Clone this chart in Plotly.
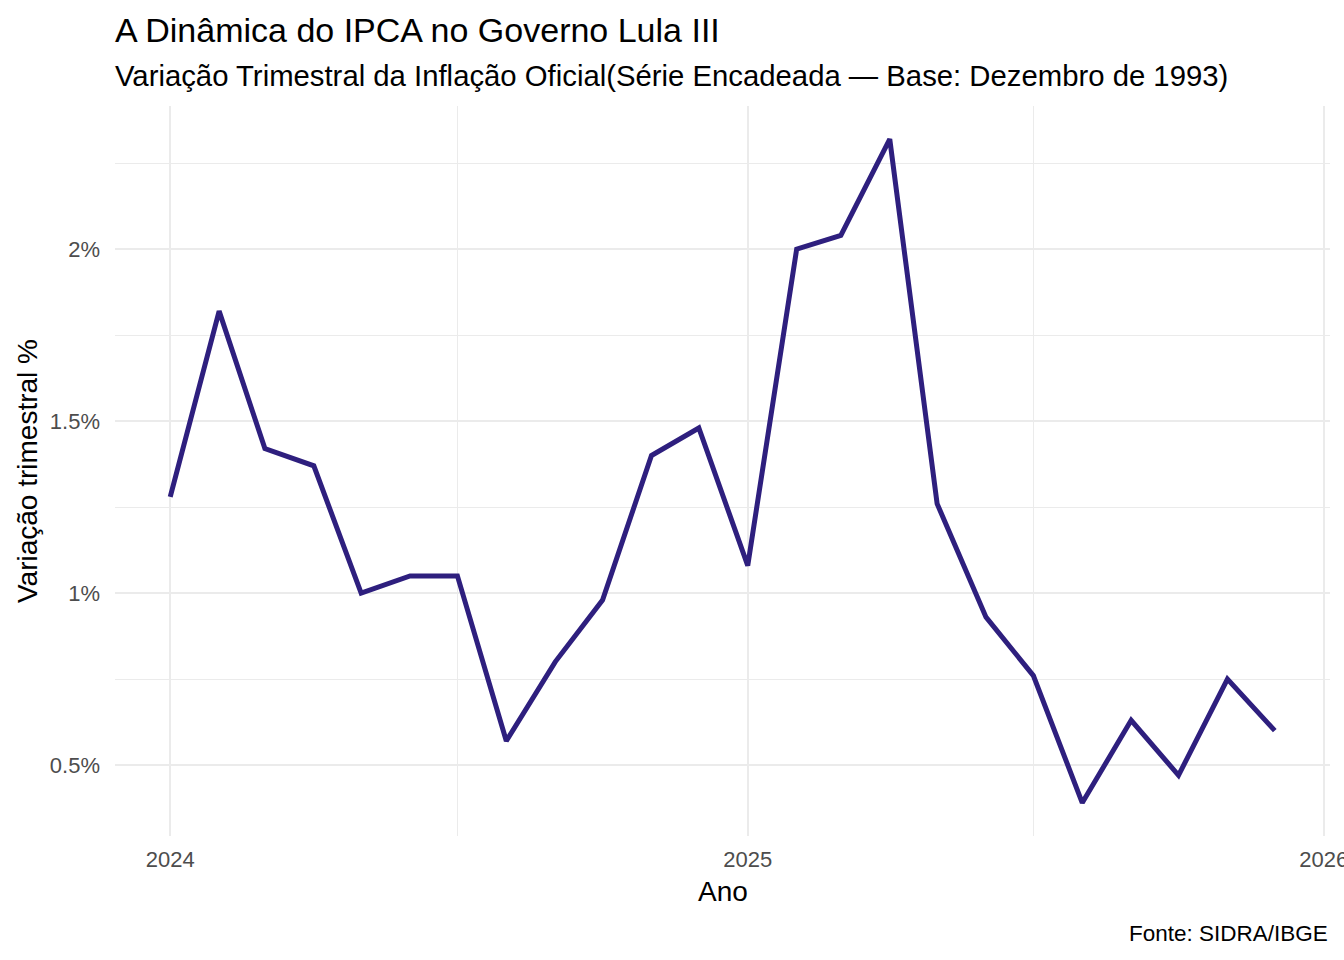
import plotly.graph_objects as go

# IPCA - variação trimestral (% ) mês a mês
meses = [
    "2024-01-01", "2024-02-01", "2024-03-01", "2024-04-01", "2024-05-01", "2024-06-01",
    "2024-07-01", "2024-08-01", "2024-09-01", "2024-10-01", "2024-11-01", "2024-12-01",
    "2025-01-01", "2025-02-01", "2025-03-01", "2025-04-01", "2025-05-01", "2025-06-01",
    "2025-07-01", "2025-08-01", "2025-09-01", "2025-10-01", "2025-11-01", "2025-12-01",
]
variacao = [
    1.28, 1.82, 1.42, 1.37, 1.00, 1.05,
    1.05, 0.57, 0.80, 0.98, 1.40, 1.48,
    1.08, 2.00, 2.04, 2.32, 1.26, 0.93,
    0.76, 0.39, 0.63, 0.47, 0.75, 0.60,
]
y_ticks = [0.5, 1.0, 1.5, 2.0]
y_labels = ["0.5%", "1%", "1.5%", "2%"]
y_minor = [0.75, 1.25, 1.75, 2.25]
x_ticks = ["2024-01-01", "2025-01-01", "2026-01-01"]
x_labels = ["2024", "2025", "2026"]
x_minor = ["2024-07-01", "2025-07-01"]

FONT = "Liberation Sans, Arial, sans-serif"
GRID = "#EBEBEB"
W, H = 1344, 960
L, R, T, B = 115, 14, 106, 124
PH = H - T - B
PW = W - L - R

fig = go.Figure()
fig.add_trace(go.Scatter(x=meses, y=variacao, mode="lines",
                         line=dict(color="#2E1F7E", width=5),
                         showlegend=False, hoverinfo="x+y"))

fig.update_layout(
    width=W, height=H,
    plot_bgcolor="white", paper_bgcolor="white",
    font=dict(family=FONT, color="black"),
    margin=dict(l=L, r=R, t=T, b=B, autoexpand=False),
    title=dict(text="A Dinâmica do IPCA no Governo Lula III",
               x=L / W, xanchor="left", xref="container",
               y=1 - 30 / H, yanchor="middle", yref="container",
               font=dict(size=34, family=FONT, color="black")),
)

# subtítulo, títulos dos eixos e fonte
fig.add_annotation(text="Variação Trimestral da Inflação Oficial(Série Encadeada — Base: Dezembro de 1993)",
                   xref="paper", yref="paper", x=0, y=1 + (T - 75) / PH,
                   xanchor="left", yanchor="middle", showarrow=False, xshift=-2,
                   font=dict(size=29.3, family=FONT, color="black"))
fig.add_annotation(text="Ano", xref="paper", yref="paper", x=0.5, y=-(892 - 836) / PH,
                   xanchor="center", yanchor="middle", showarrow=False,
                   font=dict(size=28, family=FONT, color="black"))
fig.add_annotation(text="Variação trimestral %", xref="paper", yref="paper",
                   x=-(L - 27) / PW, y=0.5, textangle=-90,
                   xanchor="center", yanchor="middle", showarrow=False,
                   font=dict(size=28, family=FONT, color="black"))
fig.add_annotation(text="Fonte: SIDRA/IBGE",
                   xref="paper", yref="paper", x=1, y=-(933 - 836) / PH,
                   xanchor="right", yanchor="middle", showarrow=False,
                   font=dict(size=22.5, family=FONT, color="black"))

fig.update_xaxes(
    type="date", range=["2023-11-27", "2026-01-05"],
    tickmode="array", tickvals=x_ticks, ticktext=x_labels,
    tickfont=dict(size=22, color="#4D4D4D"), ticks="", ticklabelstandoff=8,
    ticklabeloverflow="allow",
    showgrid=True, gridcolor=GRID, gridwidth=2,
    minor=dict(tickmode="array", tickvals=x_minor, showgrid=True, gridcolor=GRID, gridwidth=1),
    zeroline=False, showline=False, automargin=False,
)
fig.update_yaxes(
    range=[0.2935, 2.4165],
    tickmode="array", tickvals=y_ticks, ticktext=y_labels,
    tickfont=dict(size=22, color="#4D4D4D"), ticks="", ticklabelstandoff=14,
    showgrid=True, gridcolor=GRID, gridwidth=2,
    minor=dict(tickmode="array", tickvals=y_minor, showgrid=True, gridcolor=GRID, gridwidth=1),
    zeroline=False, showline=False, automargin=False,
)

# drop the default 8px body margin so the figure fills the window exactly
fig.write_html("out.html", config={"displayModeBar": False},
               post_script="document.body.style.margin='0';")
